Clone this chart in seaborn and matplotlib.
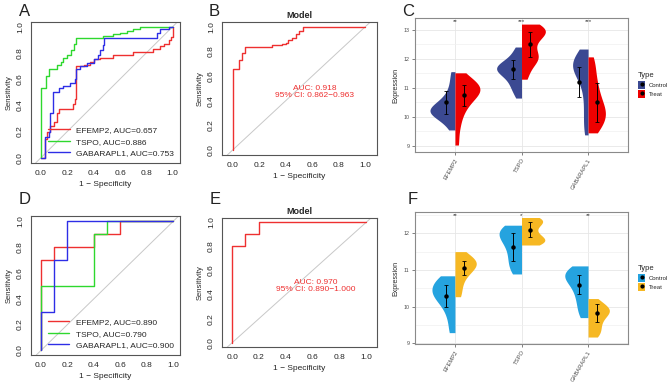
import numpy as np
import pandas as pd
import seaborn as sns
import matplotlib.pyplot as plt
from matplotlib.patches import Patch
from matplotlib.lines import Line2D
from matplotlib.ticker import MultipleLocator

sns.set_style('white')
plt.rcParams['font.family'] = ['Liberation Sans', 'DejaVu Sans']

genes = ['EFEMP2', 'TSPO', 'GABARAPL1']
roc_colors = ['#EE3030', '#2ED82E', '#2E2EE6']

# ROC curves: at each fpr the sensitivity rises to tpr (training set)
a_efemp2_fpr = [0, 0, 0.03, 0.05, 0.07, 0.10, 0.12, 0.14, 0.24, 0.26, 0.27, 0.33, 0.37, 0.40, 0.45, 0.55, 0.70, 0.85, 0.90, 0.93, 0.97, 0.99, 1.0]
a_efemp2_tpr = [0, 0, 0.14, 0.20, 0.24, 0.27, 0.34, 0.37, 0.41, 0.45, 0.70, 0.71, 0.73, 0.75, 0.76, 0.78, 0.81, 0.83, 0.85, 0.87, 0.90, 0.92, 1.0]
a_tspo_fpr = [0, 0, 0.04, 0.06, 0.12, 0.15, 0.17, 0.20, 0.23, 0.25, 0.27, 0.28, 0.47, 0.55, 0.60, 0.65, 0.70, 0.75, 1.0]
a_tspo_tpr = [0, 0.53, 0.62, 0.68, 0.71, 0.73, 0.76, 0.78, 0.82, 0.87, 0.91, 0.91, 0.93, 0.94, 0.95, 0.97, 0.98, 1.0, 1.0]
a_gaba_fpr = [0, 0, 0.03, 0.06, 0.07, 0.09, 0.14, 0.17, 0.22, 0.26, 0.27, 0.30, 0.35, 0.40, 0.43, 0.45, 0.47, 0.48, 0.88, 0.90, 0.97, 1.0]
a_gaba_tpr = [0, 0, 0.16, 0.20, 0.34, 0.50, 0.53, 0.55, 0.57, 0.60, 0.68, 0.70, 0.72, 0.75, 0.78, 0.82, 0.86, 0.91, 0.95, 0.98, 1.0, 1.0]
a_auc = ['0.657', '0.886', '0.753']

b_fpr = [0, 0, 0.05, 0.07, 0.09, 0.30, 0.37, 0.40, 0.42, 0.45, 0.48, 0.50, 0.53, 1.0]
b_tpr = [0, 0.66, 0.73, 0.79, 0.84, 0.85, 0.86, 0.87, 0.89, 0.91, 0.94, 0.97, 1.0, 1.0]
b_text = 'AUC: 0.918\n95% CI: 0.862\u22120.963'

# test set
d_efemp2_fpr = [0, 0, 0.1, 0.4, 0.6, 1.0]
d_efemp2_tpr = [0, 0.7, 0.8, 0.9, 1.0, 1.0]
d_tspo_fpr = [0, 0, 0.4, 0.5, 1.0]
d_tspo_tpr = [0, 0.5, 0.9, 1.0, 1.0]
d_gaba_fpr = [0, 0, 0.1, 0.2, 1.0]
d_gaba_tpr = [0, 0.3, 0.7, 1.0, 1.0]
d_auc = ['0.890', '0.790', '0.900']

e_fpr = [0, 0, 0.1, 0.2, 1.0]
e_tpr = [0, 0.8, 0.9, 1.0, 1.0]
e_text = 'AUC: 0.970\n95% CI: 0.890\u22121.000'

# expression samples (training set, C)
c_ctrl = {
    'EFEMP2': [11.56, 11.2, 10.9, 10.7, 10.55, 10.45, 10.35, 10.3, 10.25, 10.2, 10.15, 10.1, 10.05, 9.95, 9.8, 9.55],
    'TSPO': [12.41, 12.2, 12.0, 11.9, 11.8, 11.75, 11.7, 11.65, 11.6, 11.55, 11.45, 11.35, 11.2, 11.05, 10.9, 10.65],
    'GABARAPL1': [12.34, 12.15, 12.0, 11.9, 11.85, 11.8, 11.75, 11.7, 11.6, 11.45, 11.2, 10.9, 10.5, 10.1, 9.7, 9.38],
}
c_treat = {
    'EFEMP2': [11.52, 11.35, 11.2, 11.1, 11.05, 11.0, 10.95, 10.9, 10.8, 10.7, 10.6, 10.45, 10.25, 10.0, 9.6, 9.03],
    'TSPO': [13.2, 13.12, 13.05, 13.0, 12.95, 12.9, 12.85, 12.7, 12.5, 12.3, 12.1, 12.05, 12.0, 11.9, 11.6, 11.3],
    'GABARAPL1': [12.07, 11.8, 11.5, 11.2, 11.0, 10.8, 10.6, 10.45, 10.3, 10.2, 10.1, 10.0, 9.9, 9.75, 9.6, 9.45],
}
c_mean = [[10.5, 10.74], [11.64, 12.5], [11.2, 10.5]]
c_sd = [[0.4, 0.35], [0.33, 0.42], [0.52, 0.68]]
c_sig = ['**', '***', '***']

# expression samples (test set, F)
f_ctrl = {
    'EFEMP2': [10.84, 10.75, 10.6, 10.5, 10.4, 10.3, 10.2, 10.0, 9.7, 9.29],
    'TSPO': [12.22, 12.15, 12.05, 11.95, 11.85, 11.7, 11.5, 11.3, 11.1, 10.89],
    'GABARAPL1': [11.11, 10.98, 10.9, 10.85, 10.75, 10.6, 10.4, 10.2, 9.95, 9.7],
}
f_treat = {
    'EFEMP2': [11.5, 11.35, 11.25, 11.2, 11.15, 11.05, 10.95, 10.8, 10.55, 10.27],
    'TSPO': [12.43, 12.38, 12.33, 12.25, 12.1, 11.95, 11.85, 11.8, 11.75, 11.68],
    'GABARAPL1': [10.22, 10.05, 9.95, 9.9, 9.85, 9.75, 9.6, 9.45, 9.3, 9.17],
}
f_mean = [[10.3, 11.05], [11.62, 12.1], [10.6, 9.82]]
f_sd = [[0.3, 0.2], [0.38, 0.2], [0.25, 0.25]]
f_sig = ['**', '*', '**']

fig = plt.figure(figsize=(6.68, 3.87), dpi=100)


def px_axes(l, t, r, b):
    return fig.add_axes([l / 668, 1 - b / 387, (r - l) / 668, (b - t) / 387])


def roc_panel(ax, curves, xlim, ylim, title=None, text=None, legend=False):
    for fpr, tpr, col, lab in curves:
        sns.lineplot(x=fpr, y=tpr, sort=False, estimator=None, drawstyle='steps-post',
                     color=col, lw=1.0, label=lab, ax=ax)
    ax.axline((0, 0), slope=1, color='#c8c8c8', lw=0.7, zorder=0)
    ax.set_xlim(*xlim)
    ax.set_ylim(*ylim)
    ax.set_xticks(np.arange(0, 1.01, 0.2))
    ax.set_yticks(np.arange(0, 1.01, 0.2))
    ax.set_xticklabels([f'{v:.1f}' for v in np.arange(0, 1.01, 0.2)])
    ax.set_yticklabels([f'{v:.1f}' for v in np.arange(0, 1.01, 0.2)], rotation=90, va='center')
    ax.tick_params(length=3, width=0.6, labelsize=6, pad=2, color='#333333', direction='out')
    ax.set_xlabel('1 \u2212 Specificity', fontsize=6, labelpad=3)
    ax.set_ylabel('Sensitivity', fontsize=5.5, labelpad=3)
    for s in ax.spines.values():
        s.set_color('#555555')
        s.set_linewidth(0.8)
    if title:
        ax.set_title(title, fontsize=6.5, fontweight='bold', pad=3)
    if text:
        ax.text(0.62, 0.47, text, color='#EE3030', fontsize=6, ha='center', va='center',
                linespacing=0.95)
    if legend:
        ax.legend(loc='lower right', frameon=False, fontsize=6, handlelength=2.6,
                  borderaxespad=0.3, labelspacing=0.45, handletextpad=0.8)
    elif ax.get_legend():
        ax.get_legend().remove()


def violin_panel(ax, ctrl, treat, means, sds, sig, pal, ylim, yticks, width):
    rows = []
    for g in genes:
        rows += [(g, 'Control', v) for v in ctrl[g]]
        rows += [(g, 'Treat', v) for v in treat[g]]
    df = pd.DataFrame(rows, columns=['gene', 'Type', 'value'])
    sns.violinplot(data=df, x='gene', y='value', hue='Type', split=True, inner=None,
                   cut=0, density_norm='area', width=width, bw_adjust=0.8,
                   palette=pal, linewidth=0, saturation=1, legend=False, ax=ax)
    for i in range(len(genes)):
        for j, off in enumerate([-0.13, 0.13]):
            ax.errorbar(i + off, means[i][j], yerr=sds[i][j], fmt='o', color='black',
                        ms=2.2, elinewidth=0.7, capsize=1.6, capthick=0.6, zorder=5)
        ax.text(i, ylim[1] - 0.025 * (ylim[1] - ylim[0]), sig[i], ha='center', va='center',
                fontsize=4.5, color='#333333')
    ax.set_xlim(-0.6, 2.6)
    ax.set_ylim(*ylim)
    ax.set_yticks(yticks)
    ax.yaxis.set_minor_locator(MultipleLocator(0.5))
    ax.grid(True, which='major', color='#e6e6e6', lw=0.6)
    ax.grid(True, which='minor', axis='y', color='#f0f0f0', lw=0.5)
    ax.set_axisbelow(True)
    ax.set_xlabel('')
    ax.set_ylabel('Expression', fontsize=5, labelpad=3)
    ax.tick_params(axis='y', labelsize=3.8, length=2, width=0.5, pad=2, colors='#4d4d4d', left=True)
    ax.tick_params(axis='x', labelsize=4.2, length=2, width=0.5, pad=2, colors='#4d4d4d', bottom=True)
    plt.setp(ax.get_xticklabels(), rotation=60, ha='right', va='top', rotation_mode='anchor')
    for s in ax.spines.values():
        s.set_color('#8a8a8a')
        s.set_linewidth(0.8)
    handles = [(Patch(facecolor=pal[k], edgecolor='none'),
                Line2D([], [], marker='o', ms=2, color='black', ls='none')) for k in ['Control', 'Treat']]
    leg = ax.legend(handles, ['Control', 'Treat'], title='Type', loc='center left',
                    bbox_to_anchor=(1.02, 0.5), frameon=False, fontsize=4.3, title_fontsize=5.5,
                    handlelength=1.3, handleheight=1.6, handletextpad=0.6, labelspacing=0.25)
    leg._legend_box.align = 'left'


ax_a = px_axes(31, 22, 180, 163)
roc_panel(ax_a, [(a_efemp2_fpr, a_efemp2_tpr, roc_colors[0], f'EFEMP2, AUC={a_auc[0]}'),
                 (a_tspo_fpr, a_tspo_tpr, roc_colors[1], f'TSPO, AUC={a_auc[1]}'),
                 (a_gaba_fpr, a_gaba_tpr, roc_colors[2], f'GABARAPL1, AUC={a_auc[2]}')],
          (-0.075, 1.055), (-0.04, 1.035), legend=True)

ax_b = px_axes(222, 22, 377, 155)
roc_panel(ax_b, [(b_fpr, b_tpr, roc_colors[0], 'Model')], (-0.08, 1.09), (-0.04, 1.04),
          title='Model', text=b_text)

ax_c = px_axes(415, 18, 628, 152)
violin_panel(ax_c, c_ctrl, c_treat, c_mean, c_sd, c_sig,
             {'Control': '#3B4992', 'Treat': '#EE0000'}, (8.79, 13.41), [9, 10, 11, 12, 13], 0.75)

ax_d = px_axes(31, 216, 180, 355)
roc_panel(ax_d, [(d_efemp2_fpr, d_efemp2_tpr, roc_colors[0], f'EFEMP2, AUC={d_auc[0]}'),
                 (d_tspo_fpr, d_tspo_tpr, roc_colors[1], f'TSPO, AUC={d_auc[1]}'),
                 (d_gaba_fpr, d_gaba_tpr, roc_colors[2], f'GABARAPL1, AUC={d_auc[2]}')],
          (-0.075, 1.05), (-0.035, 1.04), legend=True)

ax_e = px_axes(222, 218, 377, 347)
roc_panel(ax_e, [(e_fpr, e_tpr, roc_colors[0], 'Model')], (-0.075, 1.08), (-0.035, 1.035),
          title='Model', text=e_text)

ax_f = px_axes(415, 212, 628, 344)
violin_panel(ax_f, f_ctrl, f_treat, f_mean, f_sd, f_sig,
             {'Control': '#25A3DF', 'Treat': '#F6B823'}, (8.98, 12.58), [9, 10, 11, 12], 0.7)

for lab, x, y in [('A', 19, 4), ('B', 209, 4), ('C', 402, 4), ('D', 19, 192), ('E', 210, 192), ('F', 408, 192)]:
    fig.text(x / 668, 1 - y / 387, lab, fontsize=12, va='top', ha='left', color='#222222')

fig.savefig('out.png', dpi=100)
